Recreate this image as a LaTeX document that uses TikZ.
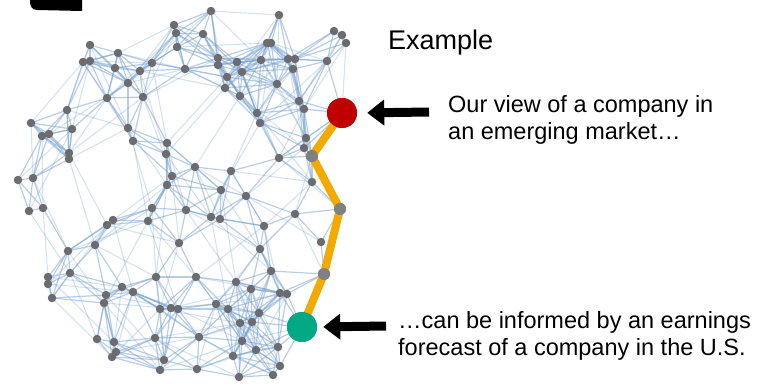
\documentclass[tikz,border=0pt]{standalone}
\usepackage{fontspec}
\setmainfont{Liberation Sans}
\usetikzlibrary{arrows.meta}
\pgfdeclarelayer{background}
\pgfsetlayers{background,main}
\definecolor{edgeblue}{RGB}{115,158,205}
\definecolor{dotgray}{RGB}{108,108,112}
\definecolor{pathgray}{RGB}{128,128,128}
\definecolor{pathorange}{RGB}{242,169,0}
\definecolor{nodered}{RGB}{192,0,0}
\definecolor{nodegreen}{RGB}{0,168,132}
\def\nodelist{90/45, 83/62, 90/61, 115/68, 118/53, 107/98, 67/110, 31/123, 72/129, 42/136, 49/134, 69/153, 69/159, 33/178, 18/180,
211/11, 174/25, 176/33, 203/34, 177/47, 152/63, 140/71, 185/69, 218/58, 218/65, 237/62, 227/77, 225/88, 128/83, 143/97, 128/128, 133/141, 167/143, 166/154, 195/167, 172/176, 167/185, 231/171, 221/190,
279/15, 334/31, 342/35, 346/43, 267/43, 271/43, 261/60, 288/59, 295/59, 242/72, 293/69, 327/61, 277/84, 240/96, 299/101, 304/109, 257/113, 260/123, 306/138, 304/148, 312/156, 279/158, 312/182,
29/211, 43/208, 113/220, 107/225, 95/245, 68/251, 70/273, 48/277, 48/284, 52/298, 106/295, 104/303, 97/339, 114/342, 116/352, 112/357,
152/208, 148/221, 186/210, 211/217, 220/219, 179/243, 156/277, 196/277, 236/282, 122/287, 133/292, 160/309, 171/308, 178/309, 216/304, 228/309, 199/337, 155/338, 164/360, 160/370, 197/369, 233/356,
246/196, 295/214, 340/209, 264/226, 260/249, 271/271, 321/242, 324/274, 251/289, 280/293, 287/294, 259/313, 252/322, 240/323, 278/347, 242/341, 256/350, 280/366, 273/375, 239/377,
342/113, 302/327}
\begin{document}
\begin{tikzpicture}[x=1pt,y=-1pt,
  dot/.style={circle,fill=dotgray,inner sep=0pt,minimum size=8.5pt},
  pathdot/.style={circle,fill=pathgray,inner sep=0pt,minimum size=12pt},
  bignode/.style={circle,inner sep=0pt,minimum size=30pt},
  edgeshort/.style={draw=edgeblue,line width=1.2pt,opacity=0.5},
  edgelong/.style={draw=edgeblue,line width=1.1pt,opacity=0.3},
  route/.style={draw=pathorange,line width=8pt},
  bigarrow/.style={draw=black,line width=9pt,-{Triangle[length=17pt,width=25pt]}},
  body/.style={anchor=base west,inner sep=0pt,align=left,font=\fontsize{23.5}{27}\selectfont}]
\useasboundingbox (0,0) rectangle (775,391);
% black blob at top left
\fill[black] (30,0) -- (82,0) -- (82,11) -- (37,10) .. controls (32,10) and (30,6) .. (30,2) -- cycle;
% network nodes
\foreach \xa/\ya [count=\i] in \nodelist {
  \node[dot] (n\i) at (\xa,\ya) {};
}
% network edges
\begin{pgfonlayer}{background}
\foreach \xa/\ya [count=\i] in \nodelist {
  \foreach \xb/\yb [count=\j] in \nodelist {
    \ifnum\j>\i\relax
      \pgfmathsetmacro\dd{veclen((\xb-\xa)/100,(\yb-\ya)/100)*100}
      \pgfmathtruncatemacro\okshort{\dd<55}
      \pgfmathtruncatemacro\oklong{(\dd<95) && (mod(\i*7+\j*11,6)==0)}
      \ifnum\okshort=1\relax
        \path[edgeshort] (n\i.center) -- (n\j.center);
      \else
        \ifnum\oklong=1\relax
          \path[edgelong] (n\i.center) -- (n\j.center);
        \fi
      \fi
    \fi
  }
}
\end{pgfonlayer}
% highlighted route
\node[bignode,fill=nodered] (red) at (342,113) {};
\node[pathdot] (p1) at (312,156) {};
\node[pathdot] (p2) at (340,209) {};
\node[pathdot] (p3) at (324,274) {};
\node[bignode,fill=nodegreen] (green) at (302,327) {};
\path[route] (red.center) -- (p1.center) -- (p2.center) -- (p3.center) -- (green.center);
\node[bignode,fill=nodered] at (red) {};
\node[pathdot] at (p1) {};
\node[pathdot] at (p2) {};
\node[pathdot] at (p3) {};
\node[bignode,fill=nodegreen] at (green) {};
% arrows
\coordinate (a1) at (429,112);
\coordinate (a2) at (386,326);
\draw[bigarrow,shorten >=10pt] (a1) -- (red.east);
\draw[bigarrow,shorten >=6pt] (a2) -- (green.east);
% texts
\node[anchor=base west,inner sep=0pt,font=\fontsize{27}{32}\selectfont] (ex) at (388,49) {Example};
\node[body] (t1) at (448,139) {Our view of a company in\\an emerging market…};
\node[body] (t2) at (398,355) {…can be informed by an earnings\\forecast of a company in the U.S.};
\end{tikzpicture}
\end{document}
